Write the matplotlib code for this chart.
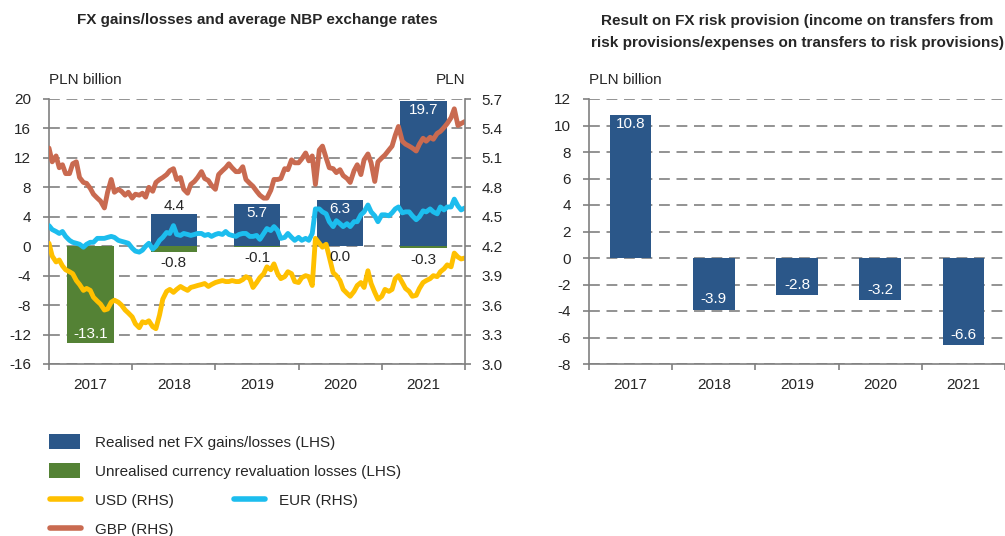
import numpy as np
import pandas as pd
import matplotlib
matplotlib.use("Agg")
import matplotlib.pyplot as plt
from matplotlib import font_manager
from matplotlib.lines import Line2D

# ================= DATA =================
years = [2017, 2018, 2019, 2020, 2021]
realised = [np.nan, 4.4, 5.7, 6.3, 19.7]        # PLN bn, LHS
unrealised = [-13.1, -0.8, -0.1, 0.0, -0.3]     # PLN bn, LHS
provision = [10.8, -3.9, -2.8, -3.2, -6.6]      # PLN bn, right chart

# NBP average rates, 1st and 15th of each month 2017-2021, plus 31 Dec 2021
usd = [4.23, 4.10, 4.04, 4.06, 4.00, 3.96, 3.94, 3.92, 3.85, 3.81,
       3.75, 3.77, 3.75, 3.68, 3.64, 3.61, 3.55, 3.56, 3.63, 3.65,
       3.63, 3.60, 3.55, 3.52, 3.48, 3.41, 3.37, 3.43, 3.42, 3.44,
       3.38, 3.36, 3.50, 3.66, 3.74, 3.76, 3.73, 3.76, 3.79, 3.77,
       3.75, 3.78, 3.79, 3.80, 3.81, 3.82, 3.79, 3.81, 3.83, 3.84,
       3.85, 3.84, 3.84, 3.85, 3.84, 3.84, 3.86, 3.89, 3.87, 3.78,
       3.83, 3.88, 3.92, 3.99, 3.96, 4.02, 3.92, 3.87, 3.89, 3.94,
       3.92, 3.84, 3.83, 3.88, 3.90, 3.89, 3.80, 4.28, 4.23, 4.19,
       4.22, 4.09, 3.93, 3.90, 3.85, 3.76, 3.72, 3.69, 3.74, 3.80,
       3.83, 3.78, 3.95, 3.82, 3.73, 3.66, 3.69, 3.76, 3.74, 3.76,
       3.87, 3.90, 3.83, 3.77, 3.74, 3.69, 3.70, 3.77, 3.83, 3.85,
       3.87, 3.90, 3.89, 3.94, 3.97, 4.01, 3.99, 4.13, 4.09, 4.07,
       4.08]
eur = [4.41, 4.37, 4.35, 4.33, 4.35, 4.30, 4.26, 4.24, 4.23, 4.22,
       4.19, 4.22, 4.24, 4.24, 4.28, 4.28, 4.28, 4.29, 4.30, 4.29,
       4.26, 4.25, 4.24, 4.23, 4.18, 4.15, 4.14, 4.16, 4.20, 4.23,
       4.17, 4.20, 4.26, 4.29, 4.34, 4.33, 4.41, 4.32, 4.31, 4.33,
       4.32, 4.31, 4.32, 4.33, 4.33, 4.31, 4.32, 4.30, 4.32, 4.33,
       4.32, 4.35, 4.32, 4.31, 4.30, 4.32, 4.33, 4.33, 4.30, 4.30,
       4.31, 4.27, 4.33, 4.38, 4.36, 4.40, 4.36, 4.28, 4.29, 4.33,
       4.29, 4.26, 4.29, 4.26, 4.28, 4.26, 4.33, 4.58, 4.58, 4.55,
       4.53, 4.45, 4.40, 4.46, 4.43, 4.40, 4.43, 4.40, 4.45, 4.45,
       4.52, 4.55, 4.62, 4.55, 4.51, 4.45, 4.52, 4.52, 4.51, 4.54,
       4.58, 4.60, 4.54, 4.55, 4.55, 4.51, 4.47, 4.50, 4.56, 4.55,
       4.58, 4.55, 4.53, 4.60, 4.57, 4.60, 4.60, 4.68, 4.61, 4.57,
       4.59]
gbp = [5.20, 5.06, 5.12, 5.00, 5.03, 4.94, 4.94, 5.04, 5.06, 4.90,
       4.85, 4.84, 4.79, 4.73, 4.69, 4.66, 4.59, 4.75, 4.88, 4.75,
       4.78, 4.76, 4.72, 4.75, 4.69, 4.73, 4.72, 4.74, 4.70, 4.80,
       4.76, 4.85, 4.88, 4.90, 4.93, 4.97, 4.99, 4.88, 4.90, 4.78,
       4.74, 4.83, 4.86, 4.90, 4.96, 4.89, 4.87, 4.82, 4.78, 4.93,
       4.97, 5.00, 5.04, 5.00, 4.96, 4.96, 5.01, 4.88, 4.84, 4.81,
       4.76, 4.72, 4.69, 4.69, 4.77, 4.88, 4.88, 4.89, 4.99, 4.98,
       5.08, 5.05, 5.05, 5.09, 5.15, 5.07, 5.12, 4.83, 5.18, 5.22,
       5.10, 5.00, 4.99, 4.95, 4.98, 4.92, 4.89, 4.85, 4.97, 5.03,
       4.93, 5.08, 5.14, 5.05, 4.86, 5.06, 5.10, 5.13, 5.18, 5.22,
       5.33, 5.42, 5.27, 5.24, 5.22, 5.20, 5.17, 5.24, 5.30, 5.27,
       5.31, 5.29, 5.35, 5.37, 5.41, 5.45, 5.51, 5.60, 5.43, 5.45,
       5.47]

dates = pd.date_range("2017-01-01", periods=120, freq="SMS").append(pd.DatetimeIndex(["2021-12-31"]))
t = dates.year + (dates.dayofyear - 1) / (365 + dates.is_leap_year)
# ========================================

BLUE = "#2B5789"
GREEN = "#548235"
C_USD = "#FFC000"
C_EUR = "#1CBDEE"
C_GBP = "#C96A50"
GRID = "#808080"
TXT = "#262626"

names = {f.name for f in font_manager.fontManager.ttflist}
if "Liberation Sans Narrow" in names:
    plt.rcParams["font.family"] = ["Liberation Sans Narrow", "DejaVu Sans"]
    FS, FT = 12.5, 12
else:
    plt.rcParams["font.family"] = ["Liberation Sans", "DejaVu Sans"]
    FS, FT = 11, 11
plt.rcParams["text.color"] = TXT
plt.rcParams["axes.unicode_minus"] = False
FS_PX = FS * 100 / 72

W, H = 1005, 536
def box(l, t_, r, b):
    return [l / W, 1 - b / H, (r - l) / W, (b - t_) / H]

fig = plt.figure(figsize=(W / 100, H / 100), dpi=100)
ax = fig.add_axes(box(49, 99, 465, 364))
ax2 = ax.twinx()
axr = fig.add_axes(box(589, 99, 1005, 364))

dash = (0, (6.5, 4))

def style_axis(a):
    a.set_axisbelow(True)
    a.yaxis.grid(True, ls=dash, color=GRID, lw=1.2)
    for s in ["top", "right"]:
        a.spines[s].set_visible(False)
    for s in ["left", "bottom"]:
        a.spines[s].set_color(GRID)
        a.spines[s].set_linewidth(1.2)
    a.tick_params(axis="y", length=4, width=1.2, color=GRID, pad=9, labelsize=FS, labelcolor=TXT)
    a.tick_params(axis="x", which="major", length=4, width=1.2, color=GRID, labelbottom=False)
    a.tick_params(axis="x", which="minor", length=0, pad=10, labelsize=FS, labelcolor=TXT)

# ---------- left chart ----------
xs = np.array(years) + 0.5
b_real = ax.bar(xs, realised, width=0.56, color=BLUE, zorder=2)
b_unr = ax.bar(xs, unrealised, width=0.56, color=GREEN, zorder=2)
ax.set_xlim(2017, 2022)
ax.set_ylim(-16, 20)
ax.set_yticks(range(-16, 21, 4))
ax.set_xticks(range(2017, 2023))
ax.set_xticks(xs, minor=True)
ax.set_xticklabels([str(y) for y in years], minor=True)
style_axis(ax)

line_kw = dict(lw=3.5, solid_joinstyle="round", solid_capstyle="round")
ax2.plot(t, gbp, color=C_GBP, **line_kw)
ax2.plot(t, eur, color=C_EUR, **line_kw)
ax2.plot(t, usd, color=C_USD, **line_kw)
ax2.set_ylim(3.0, 5.7)
rticks = np.arange(3.0, 5.71, 0.3)
ax2.set_yticks(rticks)
ax2.set_yticklabels([f"{v:.1f}" for v in rticks])
for s in ["top", "left", "bottom"]:
    ax2.spines[s].set_visible(False)
ax2.spines["right"].set_color(GRID)
ax2.spines["right"].set_linewidth(1.2)
ax2.tick_params(axis="y", length=4, width=1.2, color=GRID, pad=8, labelsize=FS, labelcolor=TXT)

# bar labels, drawn on the twin axis so they sit above the lines
def label(a, x, v, dy, color, xycoords):
    a.annotate(f"{v:.1f}", (x, v), xycoords=xycoords, xytext=(0, dy),
               textcoords="offset points", ha="center", va="center",
               color=color, fontsize=FS, zorder=5)

for x, v in zip(xs, realised):
    if np.isnan(v):
        continue
    if v >= 5:
        label(ax2, x, v, -6.5, "white", ax.transData)
    else:
        label(ax2, x, v, 5.5, TXT, ax.transData)
for x, v in zip(xs, unrealised):
    if v <= -5:
        label(ax2, x, v, 6.5, "white", ax.transData)
    else:
        label(ax2, x, v, -8, TXT, ax.transData)

# ---------- right chart ----------
pos = np.arange(len(years))
axr.bar(pos, provision, width=0.5, color=BLUE, zorder=2)
axr.set_xlim(-0.5, len(years) - 0.5)
axr.set_ylim(-8, 12)
axr.set_yticks(range(-8, 13, 2))
axr.set_xticks(np.arange(-0.5, len(years)))
axr.set_xticks(pos, minor=True)
axr.set_xticklabels([str(y) for y in years], minor=True)
style_axis(axr)
for x, v in zip(pos, provision):
    label(axr, x, v, -6.5 if v > 0 else 7.5, "white", axr.transData)

# ---------- titles and unit labels ----------
fig.text(257 / W, 1 - 20 / H, "FX gains/losses and average NBP exchange rates",
         ha="center", va="center", fontsize=FT, fontweight="bold")
fig.text(797 / W, 1 - 32 / H,
         "Result on FX risk provision (income on transfers from\n"
         "risk provisions/expenses on transfers to risk provisions)",
         ha="center", va="center", fontsize=FT, fontweight="bold", linespacing=1.65)
fig.text(49 / W, 1 - 80 / H, "PLN billion", ha="left", va="center", fontsize=FS)
fig.text(465 / W, 1 - 80 / H, "PLN", ha="right", va="center", fontsize=FS)
fig.text(589 / W, 1 - 80 / H, "PLN billion", ha="left", va="center", fontsize=FS)

# ---------- legend ----------
def proxy(c):
    return Line2D([], [], color=c, lw=4, solid_capstyle="round")

entries = [
    (b_real, "Realised net FX gains/losses (LHS)", 49, 442, True),
    (b_unr, "Unrealised currency revaluation losses (LHS)", 49, 471, True),
    (proxy(C_USD), "USD (RHS)", 50, 500, False),
    (proxy(C_EUR), "EUR (RHS)", 234, 500, False),
    (proxy(C_GBP), "GBP (RHS)", 50, 529, False),
]
for h, lab, x, y, is_bar in entries:
    fig.legend([h], [lab], loc="center left", bbox_to_anchor=(x / W, 1 - y / H),
               frameon=False, borderpad=0, borderaxespad=0, fontsize=FS,
               handlelength=31 / FS_PX, handleheight=16 / FS_PX,
               handletextpad=(15 if is_bar else 14) / FS_PX)

fig.savefig("out.png", dpi=100)
